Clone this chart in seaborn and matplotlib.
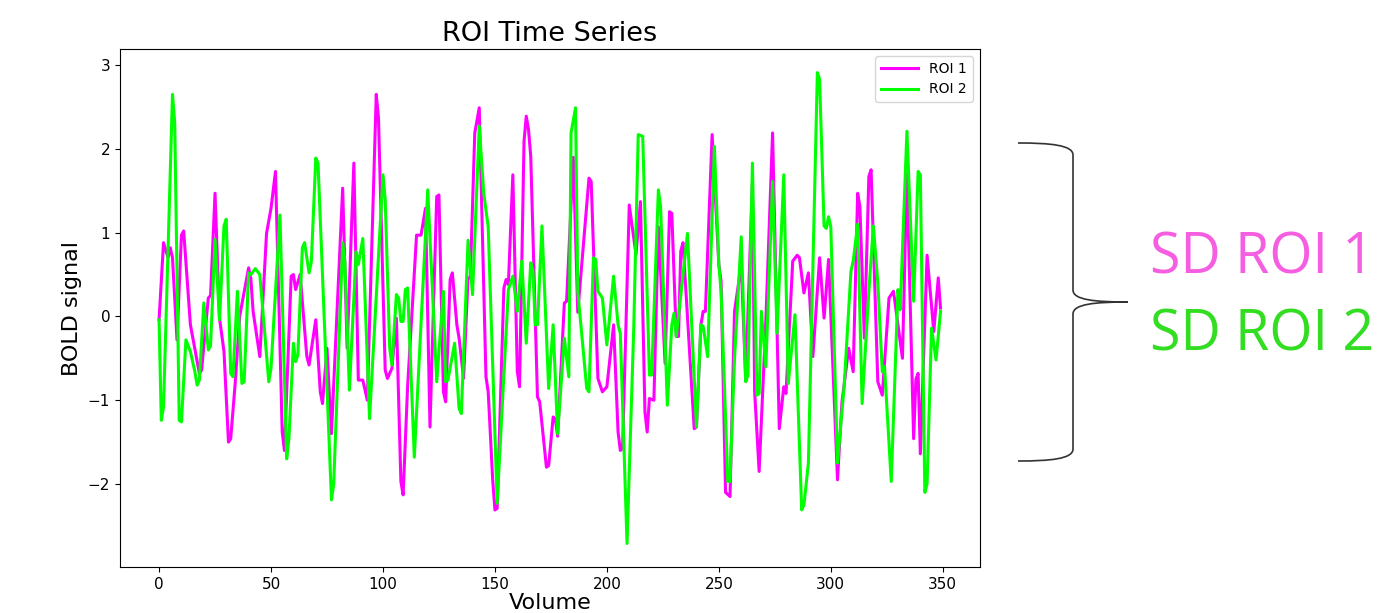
import matplotlib
matplotlib.use("Agg")
import matplotlib.pyplot as plt
from matplotlib.path import Path
from matplotlib.patches import PathPatch
import seaborn as sns
import pandas as pd

# values (volume index, BOLD signal) at the turning points
roi1_volume = [0, 2, 4, 5, 6, 8, 10, 11, 14, 17, 18, 19,
               22, 23, 25, 27, 29, 31, 32, 34, 36, 40, 41, 42,
               45, 48, 50, 52, 55, 56, 59, 60, 61, 63, 66, 67,
               70, 72, 73, 75, 77, 82, 84, 87, 89, 91, 93, 97,
               98, 101, 102, 104, 106, 108, 109, 111, 115, 117, 119, 121,
               124, 125, 127, 128, 130, 131, 133, 134, 136, 138, 139, 141,
               143, 146, 147, 149, 150, 151, 154, 155, 156, 158, 160, 161,
               163, 164, 165, 166, 169, 170, 173, 174, 176, 177, 178, 181,
               182, 185, 187, 192, 193, 196, 198, 200, 203, 205, 206, 207,
               210, 213, 215, 217, 218, 219, 221, 223, 226, 228, 229, 231,
               232, 233, 234, 239, 240, 242, 243, 244, 247, 250, 251, 253,
               255, 257, 260, 262, 265, 266, 268, 271, 274, 277, 279, 280,
               283, 285, 286, 288, 290, 292, 295, 297, 299, 303, 305, 308,
               310, 312, 313, 315, 317, 318, 321, 323, 326, 328, 332, 334,
               337, 338, 339, 340, 343, 346, 348, 349]
roi1_signal = [-0.04, 0.88, 0.70, 0.82, 0.70, -0.28, 0.97, 1.02, -0.10, -0.54, -0.68, -0.64,
               0.22, 0.25, 1.47, -0.02, -0.42, -1.50, -1.46, -0.80, 0.00, 0.58, 0.45, 0.06,
               -0.48, 0.99, 1.29, 1.73, -1.38, -1.60, 0.48, 0.50, 0.32, 0.50, -0.48, -0.58,
               -0.04, -0.90, -1.04, -0.38, -1.40, 1.53, -0.38, 1.83, -0.76, -0.76, -1.00, 2.65,
               2.37, -0.64, -0.74, -0.62, -0.02, -1.97, -2.13, -0.84, 0.97, 0.97, 1.29, -1.32,
               1.43, 1.45, -0.90, -1.02, 0.44, 0.52, -0.10, -0.26, -0.74, 0.46, 0.46, 2.19,
               2.49, -0.72, -0.90, -1.95, -2.31, -2.29, 0.34, 0.44, 0.38, 1.69, -0.66, -0.84,
               2.09, 2.39, 2.23, 1.91, -0.96, -1.02, -1.80, -1.78, -1.20, -1.22, -1.43, 0.16,
               0.18, 1.90, 0.05, 1.65, 1.61, -0.74, -0.90, -0.84, -0.10, -1.38, -1.60, -1.58,
               1.33, 0.74, 1.37, -1.14, -1.38, -0.98, -1.00, 1.07, -0.56, 1.25, 1.23, -0.24,
               -0.24, 0.78, 0.88, -1.34, -1.32, -0.10, 0.06, 0.06, 2.17, 0.62, 0.42, -2.10,
               -2.15, 0.06, 0.62, -0.75, 1.60, -0.90, -1.85, -0.05, 2.19, -1.34, -0.84, -0.92,
               0.66, 0.73, 0.70, 0.28, 0.52, -0.48, 0.70, -0.02, 0.68, -1.95, -1.02, -0.38,
               -0.66, 1.47, 1.31, -0.26, 1.67, 1.75, -0.78, -0.94, 0.22, 0.30, -0.50, 1.70,
               -1.46, -0.75, -0.68, -1.64, 0.73, -0.18, 0.46, 0.10]

roi2_volume = [0, 1, 2, 6, 7, 9, 10, 12, 14, 16, 17, 18,
               20, 22, 23, 25, 27, 29, 30, 32, 33, 35, 37, 38,
               40, 41, 43, 45, 49, 50, 54, 57, 58, 60, 61, 62,
               64, 65, 67, 68, 70, 71, 77, 78, 82, 83, 85, 88,
               89, 91, 94, 100, 101, 103, 104, 106, 107, 108, 109, 110,
               111, 114, 120, 124, 127, 128, 129, 132, 134, 135, 138, 140,
               143, 145, 147, 151, 156, 158, 160, 162, 164, 166, 167, 168,
               169, 171, 174, 176, 178, 181, 183, 184, 186, 187, 191, 192,
               194, 195, 196, 198, 200, 203, 205, 206, 209, 212, 214, 216,
               219, 220, 223, 224, 227, 229, 230, 231, 236, 240, 242, 243,
               245, 248, 250, 251, 254, 255, 257, 260, 262, 263, 265, 267,
               268, 269, 271, 274, 276, 279, 281, 284, 287, 288, 290, 294,
               295, 297, 298, 299, 300, 303, 306, 309, 310, 312, 314, 317,
               319, 321, 323, 324, 327, 330, 331, 334, 337, 339, 340, 342,
               343, 345, 347, 349]
roi2_signal = [-0.04, -1.24, -1.08, 2.65, 2.31, -1.24, -1.26, -0.28, -0.42, -0.66, -0.82, -0.76,
               0.16, -0.40, -0.35, 0.92, -0.04, 1.08, 1.16, -0.68, -0.72, 0.30, -0.80, -0.78,
               0.52, 0.50, 0.57, 0.50, -0.78, -0.62, 1.21, -1.70, -1.46, -0.32, -0.54, -0.46,
               0.82, 0.88, 0.52, 0.65, 1.89, 1.83, -2.19, -2.00, 0.88, 0.65, -0.88, 0.77,
               0.62, 0.93, -1.22, 1.69, 1.39, -0.38, -0.58, 0.26, 0.22, -0.06, -0.06, 0.32,
               0.34, -1.68, 1.51, -0.78, 0.30, -0.78, -0.76, -0.32, -1.10, -1.16, 0.91, 0.26,
               2.27, 1.47, 1.07, -2.23, 0.32, 0.48, 0.06, 0.66, -0.32, 0.64, 0.54, -0.10,
               -0.10, 1.08, -0.86, -0.10, -1.40, -0.26, -0.72, 2.19, 2.49, 0.30, -0.86, -0.90,
               0.70, 0.68, 0.30, 0.22, -0.34, 0.48, -0.10, -0.20, -2.71, -0.14, 2.17, 2.15,
               -0.70, -0.70, 1.51, 1.31, -1.06, -0.10, 0.04, -0.24, 0.99, -1.32, -0.10, -0.12,
               -0.48, 2.03, 0.62, 0.30, -1.97, -1.97, -0.50, 0.95, -0.78, -0.70, 1.83, -0.94,
               -0.92, 0.06, -0.60, 1.61, -0.20, 1.69, -0.80, 0.02, -2.31, -2.25, -1.75, 2.91,
               2.83, 1.08, 1.05, 1.19, 1.07, -1.75, -0.82, 0.54, 0.66, 1.10, -1.04, 0.30,
               1.08, 0.40, -0.66, -0.60, -1.97, 0.32, 0.08, 2.21, 0.18, 1.73, 1.69, -2.10,
               -2.00, -0.14, -0.52, 0.06]

roi_names = ["ROI 1", "ROI 2"]
roi_colors = ["#ff00ff", "#00ff00"]
sd_labels = ["SD ROI 1", "SD ROI 2"]
sd_colors = ["#f55ee0", "#33dd22"]

df = pd.concat([
    pd.DataFrame({"Volume": roi1_volume, "BOLD signal": roi1_signal, "ROI": roi_names[0]}),
    pd.DataFrame({"Volume": roi2_volume, "BOLD signal": roi2_signal, "ROI": roi_names[1]}),
])

fig = plt.figure(figsize=(14, 6.13), dpi=100)
ax = fig.add_axes([0.0857, 0.075, 0.614, 0.845])

sns.lineplot(data=df, x="Volume", y="BOLD signal", hue="ROI",
             palette=dict(zip(roi_names, roi_colors)), linewidth=2.2, ax=ax)

ax.set_title("ROI Time Series", fontsize=19.5, pad=6)
ax.set_xlabel("Volume", fontsize=16, labelpad=1)
ax.set_ylabel("BOLD signal", fontsize=16)
ax.tick_params(labelsize=11)
ax.legend(loc="upper right", fontsize=10, handlelength=2.7)

# curly brace on the right
W, H = 1400, 613
pts = [(1018, 143), (1050, 143), (1073, 145), (1073, 155),
       (1073, 290),
       (1073, 300), (1095, 302), (1128, 302),
       (1095, 302), (1073, 304), (1073, 314),
       (1073, 449),
       (1073, 459), (1050, 461), (1018, 461)]
codes = [Path.MOVETO, Path.CURVE4, Path.CURVE4, Path.CURVE4,
         Path.LINETO,
         Path.CURVE4, Path.CURVE4, Path.CURVE4,
         Path.CURVE4, Path.CURVE4, Path.CURVE4,
         Path.LINETO,
         Path.CURVE4, Path.CURVE4, Path.CURVE4]
brace = Path([(x / W, 1 - y / H) for x, y in pts], codes)
fig.add_artist(PathPatch(brace, facecolor="none", edgecolor="#333333",
                         lw=1.2, transform=fig.transFigure))

fig.text(1150 / W, 1 - 259 / H, sd_labels[0], color=sd_colors[0],
         fontsize=40, family="Open Sans", va="center", ha="left")
fig.text(1150 / W, 1 - 336 / H, sd_labels[1], color=sd_colors[1],
         fontsize=40, family="Open Sans", va="center", ha="left")

fig.savefig("out.png", dpi=100)
